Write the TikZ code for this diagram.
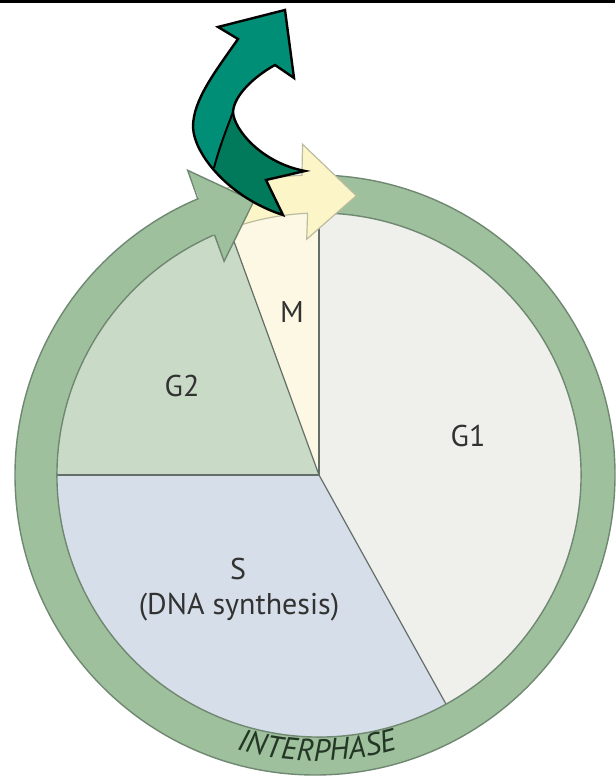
\documentclass[tikz,border=0pt]{standalone}
\usepackage{fontspec}
\setmainfont{PT Sans}
\usetikzlibrary{calc,decorations.text}
\definecolor{gone}{RGB}{239,239,236}
\definecolor{sphase}{RGB}{214,222,233}
\definecolor{gtwo}{RGB}{201,219,199}
\definecolor{mphase}{RGB}{252,248,227}
\definecolor{ringc}{RGB}{158,192,157}
\definecolor{ringline}{RGB}{112,136,114}
\definecolor{sepline}{RGB}{100,110,105}
\definecolor{yel}{RGB}{251,245,200}
\definecolor{yelline}{RGB}{188,188,160}
\definecolor{ink}{RGB}{50,50,50}
\definecolor{inkgreen}{RGB}{36,54,38}
\definecolor{tealup}{RGB}{0,143,118}
\definecolor{teallow}{RGB}{0,122,90}
\tikzset{
  sepl/.style={draw=sepline, line width=1.2pt},
  lbl/.style={text=ink, font=\fontsize{30}{30}\selectfont, inner sep=0pt, anchor=base},
  ringstroke/.style={draw=ringline, line width=1.4pt},
}
\begin{document}
\begin{tikzpicture}[x=1pt,y=1pt]
\useasboundingbox (0,0) rectangle (615,778);
\fill[white] (0,0) rectangle (615,778);
\fill[black] (0,775) rectangle (615,778);
\coordinate (O1) at (315,303);
\coordinate (O2) at (319,303);
\coordinate (Om) at (317,303);
% pie sectors
\fill[gone] (O2) -- ($(O2)+(90:262)$) arc[start angle=90,end angle=-61,radius=262pt] -- cycle;
\fill[sphase] (O2) -- ($(O2)+(-61:262)$) arc[start angle=-61,end angle=-180,radius=262pt] -- cycle;
\fill[gtwo] (O2) -- ($(O2)+(180:262)$) arc[start angle=180,end angle=110,radius=262pt] -- cycle;
\fill[mphase] (O2) -- ($(O2)+(110:262)$) arc[start angle=110,end angle=90,radius=262pt] -- cycle;
\draw[sepl] (O2) -- ($(O2)+(90:262)$);
\draw[sepl] (O2) -- ($(O2)+(-61:262)$);
\draw[sepl] (O2) -- ($(O2)+(180:262)$);
\draw[sepl] (O2) -- ($(O2)+(110:262)$);
% ring body
\path[fill=ringc, ringstroke] ($(O1)+(88:300)$) arc[start angle=88,end angle=-248,radius=300pt]
  -- ($(O2)+(-248:262)$) arc[start angle=-248,end angle=88,radius=262pt] -- cycle;
% yellow M arrow
\path[fill=yel, draw=yelline, line width=1.2pt] ($(O2)+(111:262)$) arc[start angle=111,end angle=92.5,radius=262pt]
  -- ($(Om)+(92.5:236)$) -- ($(Om)+(82:282)$) -- ($(Om)+(92.5:331)$)
  -- ($(O1)+(92.5:300)$) arc[start angle=92.5,end angle=111,radius=300pt] -- cycle;
% green arrow head
\fill[ringc] ($(Om)+(113.5:233)$) -- ($(Om)+(103:281)$) -- ($(Om)+(113:331)$) -- cycle;
\draw[ringstroke] ($(O2)+(113.5:262)$) -- ($(Om)+(113.5:233)$) -- ($(Om)+(103:281)$) -- ($(Om)+(113:331)$) -- ($(O1)+(113:300)$);
% labels
\node[lbl] (m) at (292,455) {M};
\node[lbl] (g2) at (182,381) {G2};
\node[lbl] (g1) at (468,331) {G1};
\node[lbl] (s) at (238,198) {S};
\node[lbl] (dna) at (239,163) {(DNA synthesis)};
\path[decorate, decoration={text along path, text align=center,
  text={|\fontsize{31}{31}\selectfont\itshape\color{inkgreen}|INTERPHASE}}]
  ($(Om)+(-130:286)$) arc[start angle=-130,end angle=-50,radius=286pt];
% teal curved arrow
\begin{scope}[shift={(0,778)}, yscale=-1]
\fill[tealup] (285,10) -- (294,78) -- (275,65)
  .. controls (255,76) and (234,95) .. (233,112)
  .. controls (234,130) and (262,163) .. (305,171)
  -- (266,180) -- (283,215)
  .. controls (230,198) and (194,155) .. (193,127)
  .. controls (193,100) and (215,72) .. (238,39)
  -- (218,27) -- cycle;
\begin{scope}
\clip (285,10) -- (294,78) -- (275,65)
  .. controls (255,76) and (234,95) .. (233,112)
  .. controls (234,130) and (262,163) .. (305,171)
  -- (266,180) -- (283,215)
  .. controls (230,198) and (194,155) .. (193,127)
  .. controls (193,100) and (215,72) .. (238,39)
  -- (218,27) -- cycle;
\fill[teallow] (233,112) -- (400,112) -- (400,300) -- (190,250) -- (214,168) .. controls (219,148) and (227,128) .. (233,112) -- cycle;
\end{scope}
\draw[black, line width=2pt] (233,112) .. controls (227,128) and (219,148) .. (214,168);
\draw[black, line width=2.4pt, line join=miter] (285,10) -- (294,78) -- (275,65)
  .. controls (255,76) and (234,95) .. (233,112)
  .. controls (234,130) and (262,163) .. (305,171)
  -- (266,180) -- (283,215)
  .. controls (230,198) and (194,155) .. (193,127)
  .. controls (193,100) and (215,72) .. (238,39)
  -- (218,27) -- cycle;
\end{scope}
\end{tikzpicture}
\end{document}
